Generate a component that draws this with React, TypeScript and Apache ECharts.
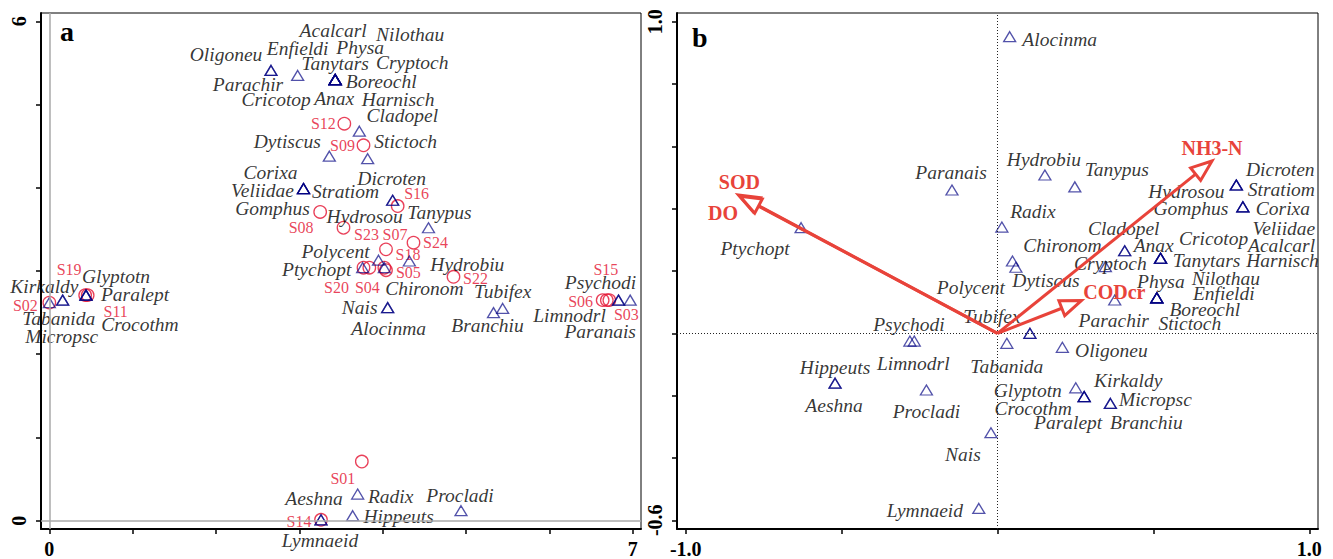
import React, { useEffect, useRef } from 'react';
import * as echarts from 'echarts';

// ---------- data ----------
const species = [
  'Acalcarl', 'Nilothau', 'Oligoneu', 'Enfieldi', 'Physa', 'Tanytars', 'Cryptoch', 'Parachir',
  'Boreochl', 'Cricotop', 'Anax', 'Harnisch', 'Cladopel', 'Dytiscus', 'Stictoch', 'Corixa',
  'Dicroten', 'Veliidae', 'Stratiom', 'Gomphus', 'Hydrosou', 'Tanypus', 'Polycent', 'Ptychopt',
  'Hydrobiu', 'Chironom', 'Tubifex', 'Nais', 'Alocinma', 'Branchiu', 'Psychodi', 'Limnodrl',
  'Paranais', 'Kirkaldy', 'Glyptotn', 'Paralept', 'Tabanida', 'Crocothm', 'Micropsc', 'Aeshna',
  'Radix', 'Procladi', 'Hippeuts', 'Lymnaeid',
];

// panel a (species scores)
const speciesAX = [
  3.43, 3.43, 2.66, 2.98, 3.43, 3.43, 3.43, 2.66,
  3.43, 3.43, 3.43, 3.43, 3.72, 3.36, 3.82, 3.05,
  4.12, 3.05, 3.05, 3.05, 4.12, 4.55, 3.95, 3.76,
  4.32, 4.02, 5.44, 4.06, 4.06, 5.33, 6.83, 6.83,
  6.97, 0.0, 0.44, 0.44, 0.16, 0.44, 0.16, 3.26,
  3.70, 4.94, 3.64, 3.26,
];
const speciesAY = [
  5.30, 5.30, 5.41, 5.35, 5.30, 5.30, 5.30, 5.41,
  5.30, 5.30, 5.30, 5.30, 4.68, 4.38, 4.35, 3.99,
  3.85, 3.99, 3.99, 3.99, 3.85, 3.52, 3.13, 3.04,
  3.12, 3.04, 2.55, 2.56, 2.56, 2.50, 2.65, 2.65,
  2.65, 2.62, 2.71, 2.71, 2.65, 2.71, 2.65, 0.01,
  0.32, 0.12, 0.06, 0.01,
];

// panel b (species scores)
const speciesBX = [
  0.523, 0.511, 0.208, 0.511, 0.511, 0.523, 0.346, 0.376,
  0.511, 0.523, 0.408, 0.523, 0.408, 0.059, 0.511, 0.787,
  0.766, 0.787, 0.766, 0.787, 0.766, 0.248, 0.104, -0.630,
  0.152, 0.048, 0.104, -0.021, 0.039, 0.362, -0.281, -0.267,
  -0.146, 0.278, 0.251, 0.278, 0.030, 0.278, 0.362, -0.521,
  0.014, -0.228, -0.521, -0.060,
];
const speciesBY = [
  0.241, 0.114, -0.045, 0.114, 0.114, 0.241, 0.214, 0.107,
  0.114, 0.241, 0.265, 0.241, 0.265, 0.212, 0.114, 0.406,
  0.476, 0.406, 0.476, 0.406, 0.476, 0.470, 0.0, 0.339,
  0.508, 0.232, 0.0, -0.319, 0.952, -0.225, -0.025, -0.025,
  0.460, -0.203, -0.175, -0.203, -0.032, -0.203, -0.225, -0.160,
  0.341, -0.182, -0.160, -0.562,
];

// sites (panel a)
const sites = ['S12', 'S09', 'S16', 'S08', 'S23', 'S07', 'S24', 'S18', 'S05', 'S20', 'S04', 'S22', 'S15', 'S06', 'S03', 'S02', 'S19', 'S11', 'S01', 'S14'];
const siteX = [3.54, 3.77, 4.18, 3.25, 3.53, 4.04, 4.37, 4.04, 4.02, 3.77, 3.84, 4.85, 6.69, 6.64, 6.72, 0.0, 0.43, 0.46, 3.75, 3.26];
const siteY = [4.77, 4.51, 3.78, 3.71, 3.52, 3.26, 3.34, 3.01, 3.04, 3.04, 3.04, 2.93, 2.65, 2.65, 2.65, 2.62, 2.71, 2.71, 0.71, 0.01];

// environmental variables (panel b)
const envNames = ['SOD', 'DO', 'NH3-N', 'CODcr'];
const envX = [-0.831, -0.826, 0.688, 0.269];
const envY = [0.444, 0.440, 0.553, 0.105];

// axis ticks / labels
const aXTicks = [0, 1, 2, 3, 4, 5, 6, 7];
const aXLabels = [0, 7];
const aYTicks = [0, 1, 2, 3, 4, 5, 6];
const aYLabels = [0, 6];
const bXTicks = [-1, -0.5, 0, 0.5, 1];
const bXLabels = [-1, 1];
const bYTicks = [-0.6, -0.4, -0.2, 0, 0.2, 0.4, 0.6, 0.8, 1.0];
const bYLabels = [-0.6, 1.0];

// ---------- label placement (style, pixels) ----------
const labelOffsetA = [
  [-2, -49], [75, -45], [-45, -16], [0, -27], [25, -32], [0, -16], [77, -17], [-23, 14],
  [46, 2], [-59, 20], [-1, 19], [63, 20], [43, -16], [-42, -15], [38, -17], [-33, -16],
  [-1, -22], [-41, 2], [42, 3], [-31, 20], [-28, 16], [11, -15], [-43, -9], [-46, 2],
  [58, 3], [40, 21], [0, -17], [-28, 0], [1, 21], [-6, 13], [-18, -18], [-49, 15],
  [-30, 31], [-5, -16], [30, -19], [49, -1], [-4, 18], [54, 29], [-1, 36], [-7, -21],
  [33, 2], [-1, -15], [46, 1], [-1, 21],
];
const labelOffsetB = [
  [121, -13], [69, -19], [49, 3], [67, -4], [4, -16], [46, 2], [5, -3], [-1, 21],
  [48, 12], [53, -20], [29, -5], [122, 2], [-1, -22], [30, 13], [33, 26], [40, 2],
  [44, -16], [41, 22], [45, 4], [-52, 2], [-50, 6], [42, -17], [-59, -46], [-46, 21],
  [-1, -16], [50, -16], [-38, -17], [-28, 22], [50, 3], [36, 19], [-1, -17], [-1, 22],
  [-1, -17], [44, -16], [-48, 3], [-16, 26], [0, 23], [-51, 12], [45, -4], [-1, 22],
  [31, -16], [0, 21], [0, -16], [-54, 2],
];
const siteLabelOffset = [
  [-21, 0], [-21, 0], [19, -13], [-19, 16], [23, 7], [9, -15], [22, 0], [22, -16], [24, 5], [-27, 20],
  [-2, 20], [22, 2], [-1, -31], [-22, 1], [17, 14], [-24, 3], [-16, -26], [28, 16], [-19, 17], [-22, 2],
];
const envLabelOffset = [[1, -13], [-17, 17], [0, -13], [33, -9]];

const SERIF = '"Liberation Serif", "Times New Roman", serif';
const TRI = 'rgba(0,0,130,0.85)';
const SITE = '#e3102f';
const ENV = '#e8433a';

function axis(min: number, max: number, ticks: number[], labels: number[], isY: boolean, dec: number, gridIndex: number) {
  return {
    type: 'value',
    gridIndex,
    min,
    max,
    axisLine: { show: true, onZero: false, lineStyle: { color: '#000', width: 2 } },
    axisTick: { show: true, customValues: ticks, length: 5, inside: false, lineStyle: { color: '#000', width: 1.5 } },
    axisLabel: {
      show: true,
      customValues: labels,
      formatter: (v: number) => (dec ? v.toFixed(dec) : String(v)),
      fontFamily: SERIF,
      fontWeight: 'bold',
      fontSize: 20,
      color: '#000',
      margin: isY ? 12 : 10,
      rotate: isY ? 90 : 0,
    },
    splitLine: { show: false },
  };
}

function speciesData(xs: number[], ys: number[], offs: number[][]) {
  return species.map((n, i) => ({ name: n, value: [xs[i], ys[i]], label: { offset: offs[i] } }));
}

export default function App() {
  const ref = useRef<HTMLDivElement>(null);
  useEffect(() => {
    if (!ref.current) return;
    const chart = echarts.init(ref.current, undefined, { renderer: 'svg' });
    const triLabel = {
      show: true,
      formatter: '{b}',
      position: 'inside',
      fontFamily: SERIF,
      fontStyle: 'italic',
      fontSize: 19.5,
      color: '#000',
    };
    const option: any = {
      animation: false,
      backgroundColor: '#fff',
      grid: [
        { left: 41, top: 13, width: 600, height: 517, show: true, borderColor: '#000', borderWidth: 1, backgroundColor: 'transparent' },
        { left: 677, top: 13, width: 641, height: 516, show: true, borderColor: '#000', borderWidth: 1, backgroundColor: 'transparent' },
      ],
      xAxis: [
        axis(-0.1, 7.1, aXTicks, aXLabels, false, 0, 0),
        axis(-1.028, 1.028, bXTicks, bXLabels, false, 1, 1),
      ],
      yAxis: [
        axis(-0.1, 6.1, aYTicks, aYLabels, true, 0, 0),
        axis(-0.628, 1.028, bYTicks, bYLabels, true, 1, 1),
      ],
      graphic: [
        { type: 'text', left: 60, top: 17, style: { text: 'a', font: 'bold 28px ' + SERIF, fill: '#000' } },
        { type: 'text', left: 692, top: 23, style: { text: 'b', font: 'bold 28px ' + SERIF, fill: '#000' } },
      ],
      series: [
        {
          type: 'scatter', xAxisIndex: 0, yAxisIndex: 0, data: [], z: 1, silent: true,
          markLine: {
            silent: true, symbol: 'none', label: { show: false },
            lineStyle: { color: '#a8a8a8', width: 1.5, type: 'solid' },
            data: [{ xAxis: 0 }, { yAxis: 0 }],
          },
        },
        {
          type: 'scatter', xAxisIndex: 0, yAxisIndex: 0, z: 3,
          symbol: 'circle', symbolSize: 12.5,
          itemStyle: { color: 'rgba(0,0,0,0)', borderColor: SITE, borderWidth: 1.3 },
          label: { show: true, formatter: '{b}', position: 'inside', fontFamily: SERIF, fontSize: 16, color: SITE },
          data: sites.map((n, i) => ({ name: n, value: [siteX[i], siteY[i]], label: { offset: siteLabelOffset[i] } })),
        },
        {
          type: 'scatter', xAxisIndex: 0, yAxisIndex: 0, z: 4,
          symbol: 'triangle', symbolSize: [12, 10],
          itemStyle: { color: 'rgba(0,0,0,0)', borderColor: TRI, borderWidth: 1.3 },
          label: triLabel,
          data: speciesData(speciesAX, speciesAY, labelOffsetA),
        },
        {
          type: 'scatter', xAxisIndex: 1, yAxisIndex: 1, data: [], z: 1, silent: true,
          markLine: {
            silent: true, symbol: 'none', label: { show: false },
            lineStyle: { color: '#222', width: 1, type: [1, 2] },
            data: [{ xAxis: 0 }, { yAxis: 0 }],
          },
        },
        {
          type: 'scatter', xAxisIndex: 1, yAxisIndex: 1, z: 4,
          symbol: 'triangle', symbolSize: [12, 10],
          itemStyle: { color: 'rgba(0,0,0,0)', borderColor: TRI, borderWidth: 1.3 },
          label: triLabel,
          data: speciesData(speciesBX, speciesBY, labelOffsetB),
        },
        {
          type: 'custom', xAxisIndex: 1, yAxisIndex: 1, z: 5,
          data: envNames.map((n, i) => [envX[i], envY[i], i]),
          renderItem: (params: any, api: any) => {
            const o = api.coord([0, 0]);
            const t = api.coord([api.value(0), api.value(1)]);
            const dx = t[0] - o[0];
            const dy = t[1] - o[1];
            const len = Math.hypot(dx, dy);
            const ux = dx / len;
            const uy = dy / len;
            const hl = 21;
            const hw = 8;
            const bx = t[0] - ux * hl;
            const by = t[1] - uy * hl;
            const px = -uy;
            const py = ux;
            const idx = params.dataIndex;
            const off = envLabelOffset[idx];
            return {
              type: 'group',
              children: [
                { type: 'line', shape: { x1: o[0], y1: o[1], x2: bx, y2: by }, style: { stroke: ENV, lineWidth: 3 } },
                {
                  type: 'polygon',
                  shape: { points: [[t[0], t[1]], [bx + px * hw, by + py * hw], [bx - px * hw, by - py * hw]] },
                  style: { fill: '#fff', stroke: ENV, lineWidth: 3, lineJoin: 'miter' },
                },
                {
                  type: 'text', x: t[0] + off[0], y: t[1] + off[1],
                  style: { text: envNames[idx], fill: ENV, font: 'bold 20px ' + SERIF, align: 'center', verticalAlign: 'middle' },
                },
              ],
            };
          },
        },
      ],
    };
    chart.setOption(option);
    return () => chart.dispose();
  }, []);
  return <div ref={ref} style={{ position: 'fixed', left: 0, top: 0, width: 1333, height: 559, background: '#fff' }} />;
}
